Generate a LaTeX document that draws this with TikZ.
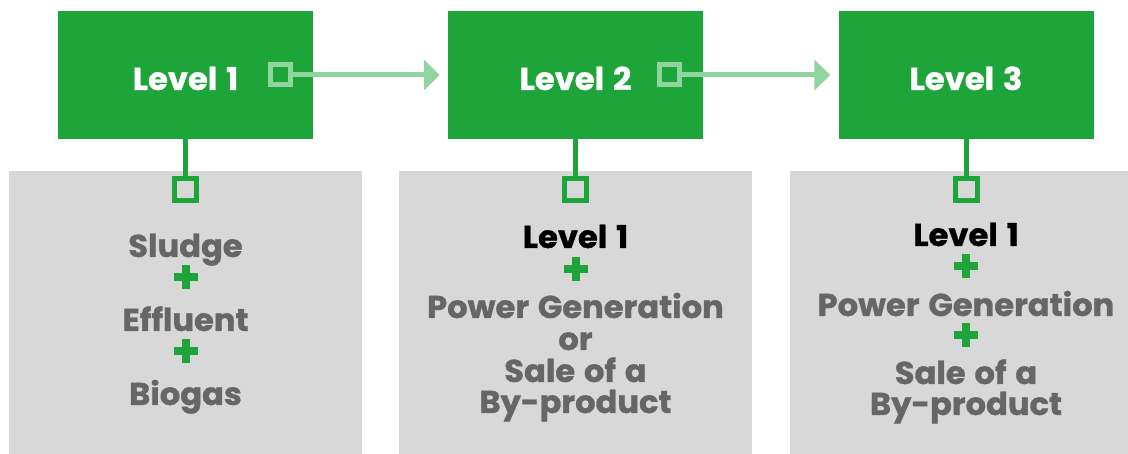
\documentclass[tikz,border=0pt]{standalone}
\usepackage{fontspec}
\setmainfont{Poppins}[BoldFeatures={FakeBold=1.0}, WordSpace=1.3, FakeStretch=1.02]
\usetikzlibrary{arrows.meta}
\definecolor{boxgreen}{RGB}{30,165,58}
\definecolor{lightgreen}{RGB}{144,212,160}
\definecolor{boxgray}{RGB}{216,216,216}
\definecolor{textgray}{RGB}{102,102,102}
\tikzset{
  lvlbox/.style={fill=boxgreen, draw=none, minimum width=255pt, minimum height=128pt, inner sep=0pt},
  lvltext/.style={text=white, font=\fontsize{31.5}{36}\selectfont\bfseries, inner sep=0pt, anchor=base},
  itemtext/.style={text=textgray, font=\fontsize{31.5}{36}\selectfont\bfseries, inner sep=0pt, anchor=base},
  blacktext/.style={text=black, font=\fontsize{31.5}{36}\selectfont\bfseries, inner sep=0pt, anchor=base},
  topsq/.style={draw=lightgreen, fill=boxgreen, line width=5pt, minimum size=20pt, inner sep=0pt},
  botsq/.style={draw=boxgreen, fill=boxgray, line width=5pt, minimum size=22pt, inner sep=0pt},
  arr/.style={draw=lightgreen, line width=5pt, -{Triangle[length=16pt,width=30pt]}, shorten >=8pt},
  vline/.style={draw=boxgreen, line width=5pt},
}
\newcommand{\plusat}[2]{%
  \fill[boxgreen] (#1-12,#2-4) rectangle (#1+12,#2+4);
  \fill[boxgreen] (#1-4,#2-12) rectangle (#1+4,#2+12);}
\begin{document}
\begin{tikzpicture}[x=1pt,y=-1pt]
\useasboundingbox (0,0) rectangle (1128,454);
% gray boxes
\fill[boxgray] (9,171) rectangle (362,454);
\fill[boxgray] (399,171) rectangle (752,454);
\fill[boxgray] (790,171) rectangle (1128,454);
% green boxes
\node[lvlbox] (b1) at (185.5,75) {};
\node[lvlbox] (b2) at (575.5,75) {};
\node[lvlbox] (b3) at (966,75) {};
\node[lvltext] (t1) at ([yshift=-15pt]b1.center) {Level 1};
\node[lvltext] (t2) at ([yshift=-15pt]b2.center) {Level 2};
\node[lvltext] (t3) at ([yshift=-15pt]b3.center) {Level 3};
% top squares and arrows
\node[topsq] (s1) at (280,75) {};
\node[topsq] (s2) at (669,75) {};
\draw[arr] (s1.east) -- (b2.west);
\draw[arr] (s2.east) -- (b3.west);
% bottom squares and connectors
\node[botsq] (d1) at (185.5,189.5) {};
\node[botsq] (d2) at (575.5,189.5) {};
\node[botsq] (d3) at (966,189.5) {};
\draw[vline] (b1.south) -- (d1.north);
\draw[vline] (b2.south) -- (d2.north);
\draw[vline] (b3.south) -- (d3.north);
% column 1
\node[itemtext] (a1) at (185.5,257) {Sludge};
\plusat{185.5}{277}
\node[itemtext] (a2) at (185.5,331) {Effluent};
\plusat{185.5}{351}
\node[itemtext] (a3) at (185.5,405) {Biogas};
% column 2
\node[blacktext] (c1) at (575.5,248) {Level 1};
\plusat{575.5}{269.5}
\node[itemtext] (c2) at (575.5,318) {Power Generation};
\node[itemtext] (c3) at (575.5,350) {or};
\node[itemtext] (c4) at (575.5,382) {Sale of a};
\node[itemtext] (c5) at (575.5,413) {By-product};
% column 3
\node[blacktext] (e1) at (966,246) {Level 1};
\plusat{966}{266}
\node[itemtext] (e2) at (966,316) {Power Generation};
\plusat{966}{335}
\node[itemtext] (e3) at (966,384) {Sale of a};
\node[itemtext] (e4) at (966,415) {By-product};
\end{tikzpicture}
\end{document}
